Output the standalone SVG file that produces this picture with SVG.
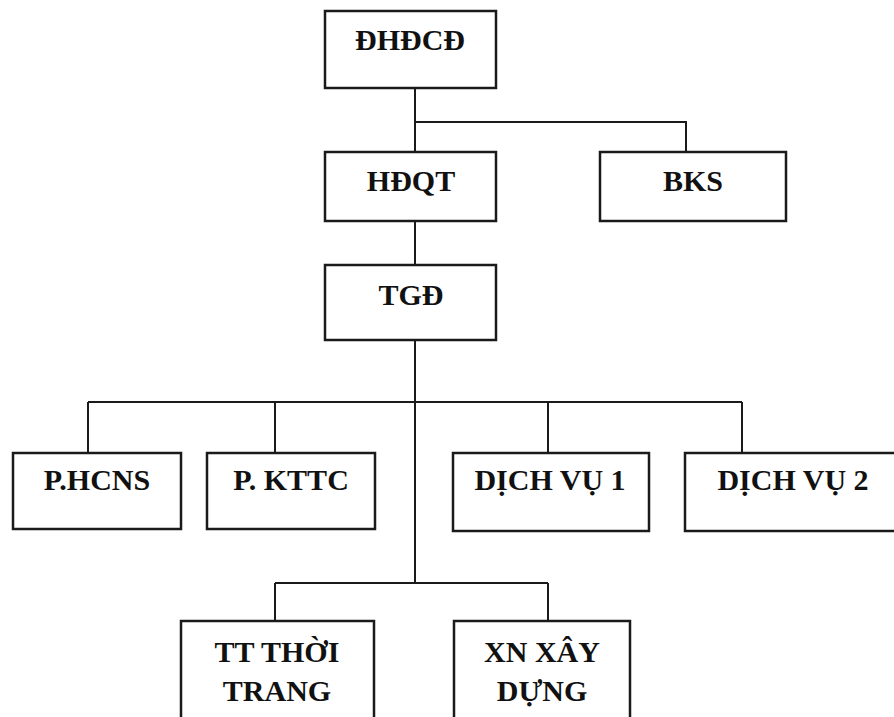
<svg xmlns="http://www.w3.org/2000/svg" width="894" height="717" viewBox="0 0 894 717">
<style>
.box{fill:#fff;stroke:#1a1a1a;stroke-width:2.5}
.lbl{font-family:"Liberation Serif","Times New Roman",serif;font-weight:bold;font-size:30px;fill:#111;text-anchor:middle}
.ln{fill:none;stroke:#1a1a1a;stroke-width:2}
</style>
<rect width="894" height="717" fill="#fff"/>
<g id="connectors">
<path class="ln" d="M415,88 V152 M415,122 H686 V152"/>
<path class="ln" d="M415,221 V265"/>
<path class="ln" d="M415,340 V583 M88,402 H742 M88,402 V453 M275,402 V453 M548,402 V453 M742,402 V453"/>
<path class="ln" d="M275,583 H548 M275,583 V621 M548,583 V621"/>
</g>
<g id="dhdcd"><rect class="box" x="325" y="11" width="171" height="77"/><text class="lbl" x="410" y="50">ĐHĐCĐ</text></g>
<g id="hdqt"><rect class="box" x="325" y="152" width="171" height="69"/><text class="lbl" x="411" y="191">HĐQT</text></g>
<g id="bks"><rect class="box" x="600" y="152" width="186" height="69"/><text class="lbl" x="693" y="191">BKS</text></g>
<g id="tgd"><rect class="box" x="325" y="265" width="171" height="75"/><text class="lbl" x="411" y="305">TGĐ</text></g>
<g id="phcns"><rect class="box" x="13" y="453" width="168" height="76"/><text class="lbl" x="97" y="490">P.HCNS</text></g>
<g id="pkttc"><rect class="box" x="207" y="453" width="168" height="76"/><text class="lbl" x="291" y="490">P. KTTC</text></g>
<g id="dv1"><rect class="box" x="453" y="453" width="196" height="78"/><text class="lbl" x="550" y="490">DỊCH VỤ 1</text></g>
<g id="dv2"><rect class="box" x="685" y="453" width="216" height="78"/><text class="lbl" x="793" y="490">DỊCH VỤ 2</text></g>
<g id="ttthoitrang"><rect class="box" x="181" y="621" width="193" height="110"/><text class="lbl" x="277" y="662">TT THỜI</text><text class="lbl" x="277" y="701">TRANG</text></g>
<g id="xnxaydung"><rect class="box" x="454" y="621" width="176" height="110"/><text class="lbl" x="542" y="662">XN XÂY</text><text class="lbl" x="542" y="701">DỰNG</text></g>
</svg>
